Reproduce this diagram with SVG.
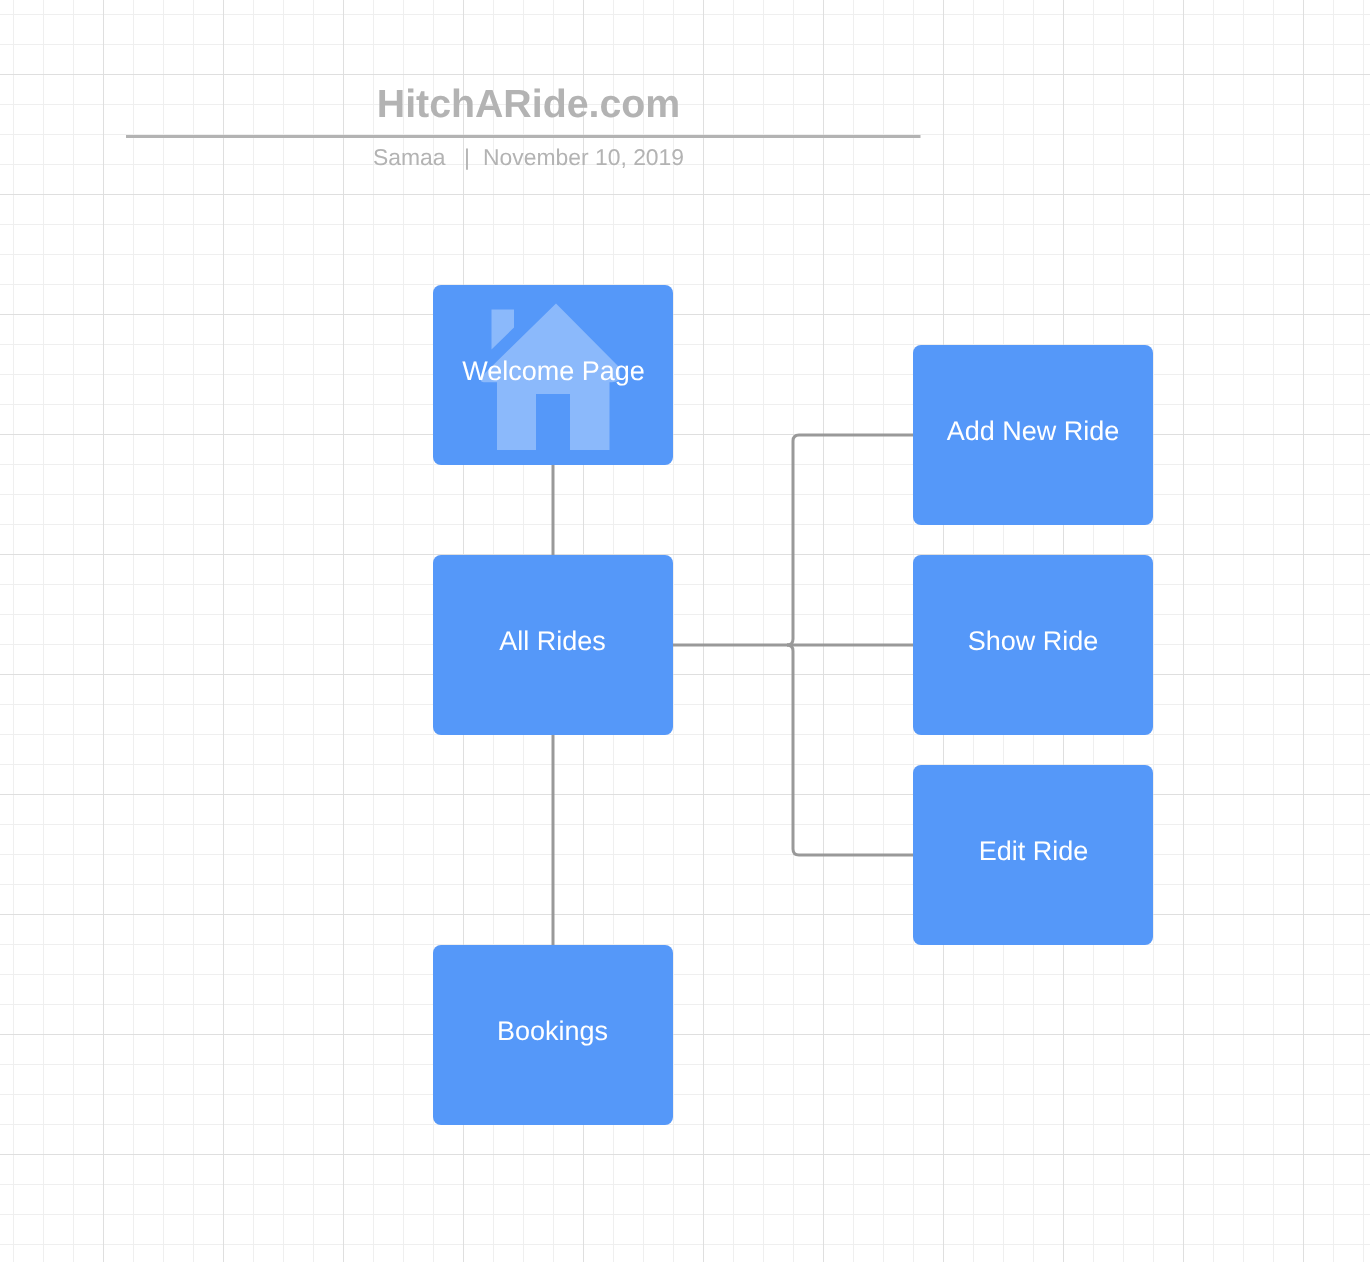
<svg xmlns="http://www.w3.org/2000/svg" width="1370" height="1262" viewBox="0 0 1370 1262">
  <defs>
    <pattern id="minor" patternUnits="userSpaceOnUse" x="13" y="14" width="30" height="30">
      <path d="M0.5 0V30M0 0.5H30" fill="none" stroke="#efefef" stroke-width="1"/>
    </pattern>
    <pattern id="major" patternUnits="userSpaceOnUse" x="103" y="74" width="120" height="120">
      <path d="M0.5 0V120M0 0.5H120" fill="none" stroke="#dfdfdf" stroke-width="1"/>
    </pattern>
    <filter id="gray" x="-5%" y="-20%" width="110%" height="140%" color-interpolation-filters="sRGB">
      <feOffset dx="0" dy="0"/>
    </filter>
  </defs>
  <style>
    text { text-rendering: geometricPrecision; filter: url(#gray); }
    .box { fill: #5598f9; }
    .lbl { font-family: "Liberation Sans", Arial, sans-serif; font-size: 27px; fill: #ffffff; text-anchor: middle; }
    .conn { fill: none; stroke: #999999; stroke-width: 3; }
    .head { font-family: "Liberation Sans", Arial, sans-serif; fill: #b3b3b3; }
  </style>
  <rect width="1370" height="1262" fill="#ffffff"/>
  <rect width="1370" height="1262" fill="url(#minor)"/>
  <rect width="1370" height="1262" fill="url(#major)"/>

  <g id="title">
    <text class="head" x="528.500" y="116.500" font-size="39.300" font-weight="700" text-anchor="middle">HitchARide.com</text>
    <rect x="126" y="135" width="794.500" height="3" fill="#b3b3b3"/>
    <text class="head" x="373" y="165" font-size="22.900">Samaa</text>
    <text class="head" x="464" y="165" font-size="22.900">|</text>
    <text class="head" x="483" y="165" font-size="22.900">November 10, 2019</text>
  </g>

  <g id="connectors">
    <path class="conn" d="M553 465V555"/>
    <path class="conn" d="M553 735V945"/>
    <path class="conn" d="M673 645H913"/>
    <path class="conn" d="M913 435H799Q793 435 793 441V639Q793 645 787 645"/>
    <path class="conn" d="M913 855H799Q793 855 793 849V651Q793 645 787 645"/>
  </g>

  <g id="welcome-page">
    <rect class="box" x="433" y="285" width="240" height="180" rx="8"/>
    <g id="house-icon" fill="#ffffff" fill-opacity="0.32">
      <path d="M556 303.500L618 366Q624 382.300 612 382.300H609.500V450H570V394H536V450H497V382.300H486Q477 382.300 483 375Z"/>
      <path d="M491.500 309.500H514V327.500L491.500 349.500Z"/>
    </g>
    <text class="lbl" x="553.500" y="379.600">Welcome Page</text>
  </g>
  <g id="all-rides">
    <rect class="box" x="433" y="555" width="240" height="180" rx="8"/>
    <text class="lbl" x="552.500" y="649.600">All Rides</text>
  </g>
  <g id="bookings">
    <rect class="box" x="433" y="945" width="240" height="180" rx="8"/>
    <text class="lbl" x="552.500" y="1039.600">Bookings</text>
  </g>
  <g id="add-new-ride">
    <rect class="box" x="913" y="345" width="240" height="180" rx="8"/>
    <text class="lbl" x="1033" y="439.600">Add New Ride</text>
  </g>
  <g id="show-ride">
    <rect class="box" x="913" y="555" width="240" height="180" rx="8"/>
    <text class="lbl" x="1033" y="649.600">Show Ride</text>
  </g>
  <g id="edit-ride">
    <rect class="box" x="913" y="765" width="240" height="180" rx="8"/>
    <text class="lbl" x="1033.500" y="859.600">Edit Ride</text>
  </g>
</svg>
